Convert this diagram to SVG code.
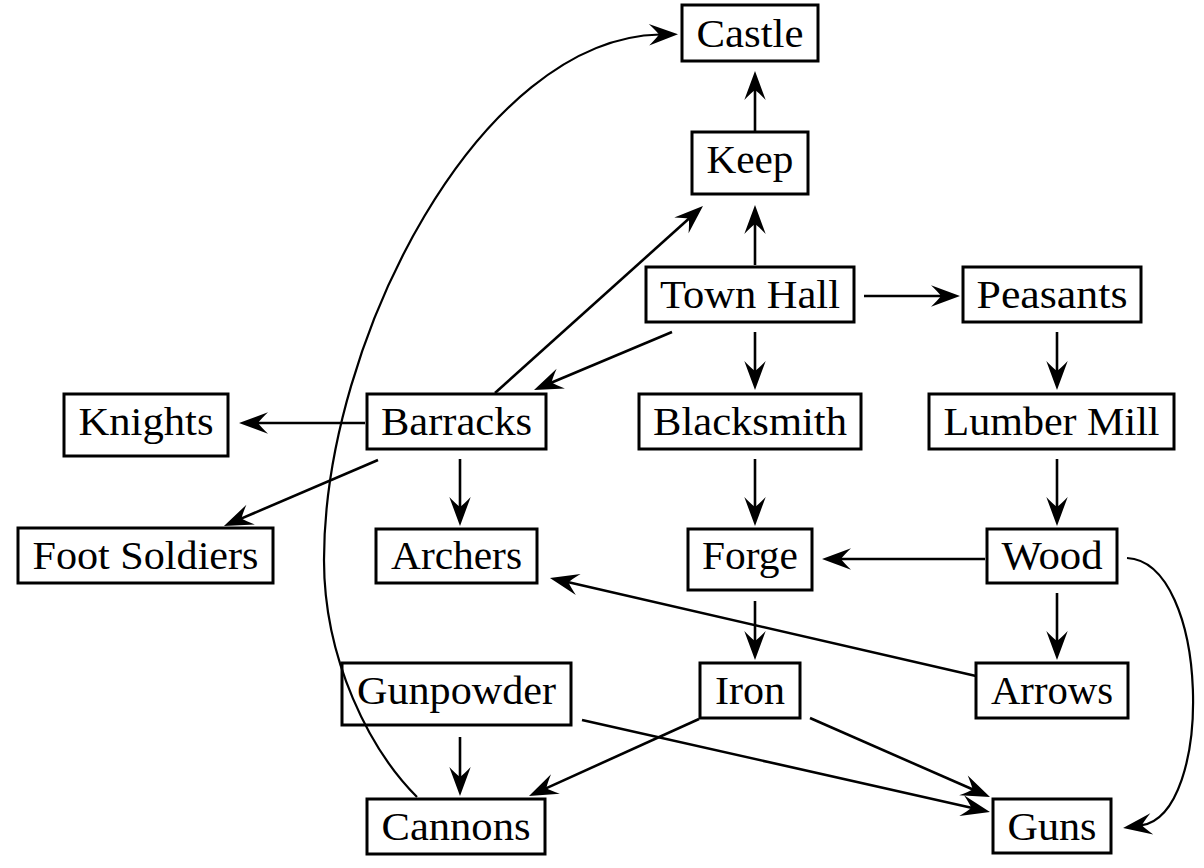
<svg xmlns="http://www.w3.org/2000/svg" width="1204" height="868" viewBox="0 0 1204 868">
<style>
  .box rect { fill: none; stroke: #000; stroke-width: 3; }
  .box text { font-family: "Liberation Serif", "DejaVu Serif", serif; font-size: 40px; fill: #000; text-anchor: middle; }
  #connectors path { fill: none; stroke: #000; stroke-width: 2.6; marker-end: url(#head); }
  #connectors path.curve { stroke-width: 2.2; }
</style>
<defs>
  <marker id="head" markerUnits="userSpaceOnUse" markerWidth="32" markerHeight="24" refX="11" refY="11" orient="auto" overflow="visible">
    <path d="M29,11 L0,0.3 Q7,7 10,11 Q7,15 0,21.7 Z" fill="#000"/>
  </marker>
</defs>
<rect width="1204" height="868" fill="#fff"/>
<g id="connectors">
  <path d="M755,131 L755,89"/>
  <path d="M755,265 L755,223"/>
  <path d="M864,296 L942,296"/>
  <path d="M755,332 L755,372"/>
  <path d="M672,332 L550.6,383"/>
  <path d="M495,393 L689.6,218"/>
  <path d="M365,423 L257,423"/>
  <path d="M378,460 L240.5,518.9"/>
  <path d="M460,459 L460,508"/>
  <path d="M755,459 L755,508"/>
  <path d="M1057,332 L1057,372"/>
  <path d="M1057,459 L1057,508"/>
  <path d="M985,559 L840,559"/>
  <path d="M1057,593 L1057,642"/>
  <path d="M755,601 L755,642"/>
  <path d="M976,676 L567.5,582"/>
  <path d="M460,737 L460,778"/>
  <path d="M582,720 L972.4,808"/>
  <path d="M699,719 L545.4,788.6"/>
  <path d="M810,718 L973.5,789.8"/>
  <path class="curve" d="M417,797 C370,750 324,660 324,560 C324,340 480,38 660,34.5"/>
  <path class="curve" d="M1127,558 C1210,562 1215,815 1140.9,825.4"/>
</g>
<g id="castle" class="box"><rect x="682" y="5" width="136" height="56"/><text x="750" y="47" textLength="107" lengthAdjust="spacingAndGlyphs">Castle</text></g>
<g id="keep" class="box"><rect x="692" y="132" width="116" height="62"/><text x="750" y="173" textLength="87" lengthAdjust="spacingAndGlyphs">Keep</text></g>
<g id="town-hall" class="box"><rect x="646" y="267" width="208" height="55"/><text x="750" y="308" textLength="180" lengthAdjust="spacingAndGlyphs">Town Hall</text></g>
<g id="peasants" class="box"><rect x="963" y="267" width="178" height="55"/><text x="1052" y="308" textLength="151" lengthAdjust="spacingAndGlyphs">Peasants</text></g>
<g id="knights" class="box"><rect x="64" y="394" width="164" height="62"/><text x="146" y="435" textLength="135" lengthAdjust="spacingAndGlyphs">Knights</text></g>
<g id="barracks" class="box"><rect x="367" y="394" width="179" height="55"/><text x="456.5" y="435" textLength="151" lengthAdjust="spacingAndGlyphs">Barracks</text></g>
<g id="blacksmith" class="box"><rect x="639" y="394" width="222" height="55"/><text x="750" y="435" textLength="194" lengthAdjust="spacingAndGlyphs">Blacksmith</text></g>
<g id="lumber-mill" class="box"><rect x="929" y="394" width="245" height="55"/><text x="1051.5" y="435" textLength="216" lengthAdjust="spacingAndGlyphs">Lumber Mill</text></g>
<g id="foot-soldiers" class="box"><rect x="18" y="528" width="255" height="55"/><text x="145.5" y="569" textLength="226" lengthAdjust="spacingAndGlyphs">Foot Soldiers</text></g>
<g id="archers" class="box"><rect x="376" y="529" width="161" height="54"/><text x="456.5" y="569" textLength="131" lengthAdjust="spacingAndGlyphs">Archers</text></g>
<g id="forge" class="box"><rect x="688" y="529" width="124" height="61"/><text x="750" y="569" textLength="96" lengthAdjust="spacingAndGlyphs">Forge</text></g>
<g id="wood" class="box"><rect x="987" y="529" width="130" height="54"/><text x="1052" y="569" textLength="101" lengthAdjust="spacingAndGlyphs">Wood</text></g>
<g id="gunpowder" class="box"><rect x="342" y="663" width="229" height="62"/><text x="456.5" y="704" textLength="199" lengthAdjust="spacingAndGlyphs">Gunpowder</text></g>
<g id="iron" class="box"><rect x="700" y="663" width="100" height="55"/><text x="750" y="704" textLength="70" lengthAdjust="spacingAndGlyphs">Iron</text></g>
<g id="arrows" class="box"><rect x="976" y="663" width="152" height="55"/><text x="1052" y="704" textLength="122" lengthAdjust="spacingAndGlyphs">Arrows</text></g>
<g id="cannons" class="box"><rect x="367" y="799" width="178" height="55"/><text x="456" y="840" textLength="149" lengthAdjust="spacingAndGlyphs">Cannons</text></g>
<g id="guns" class="box"><rect x="993" y="799" width="118" height="54"/><text x="1052" y="840" textLength="89" lengthAdjust="spacingAndGlyphs">Guns</text></g>
</svg>
